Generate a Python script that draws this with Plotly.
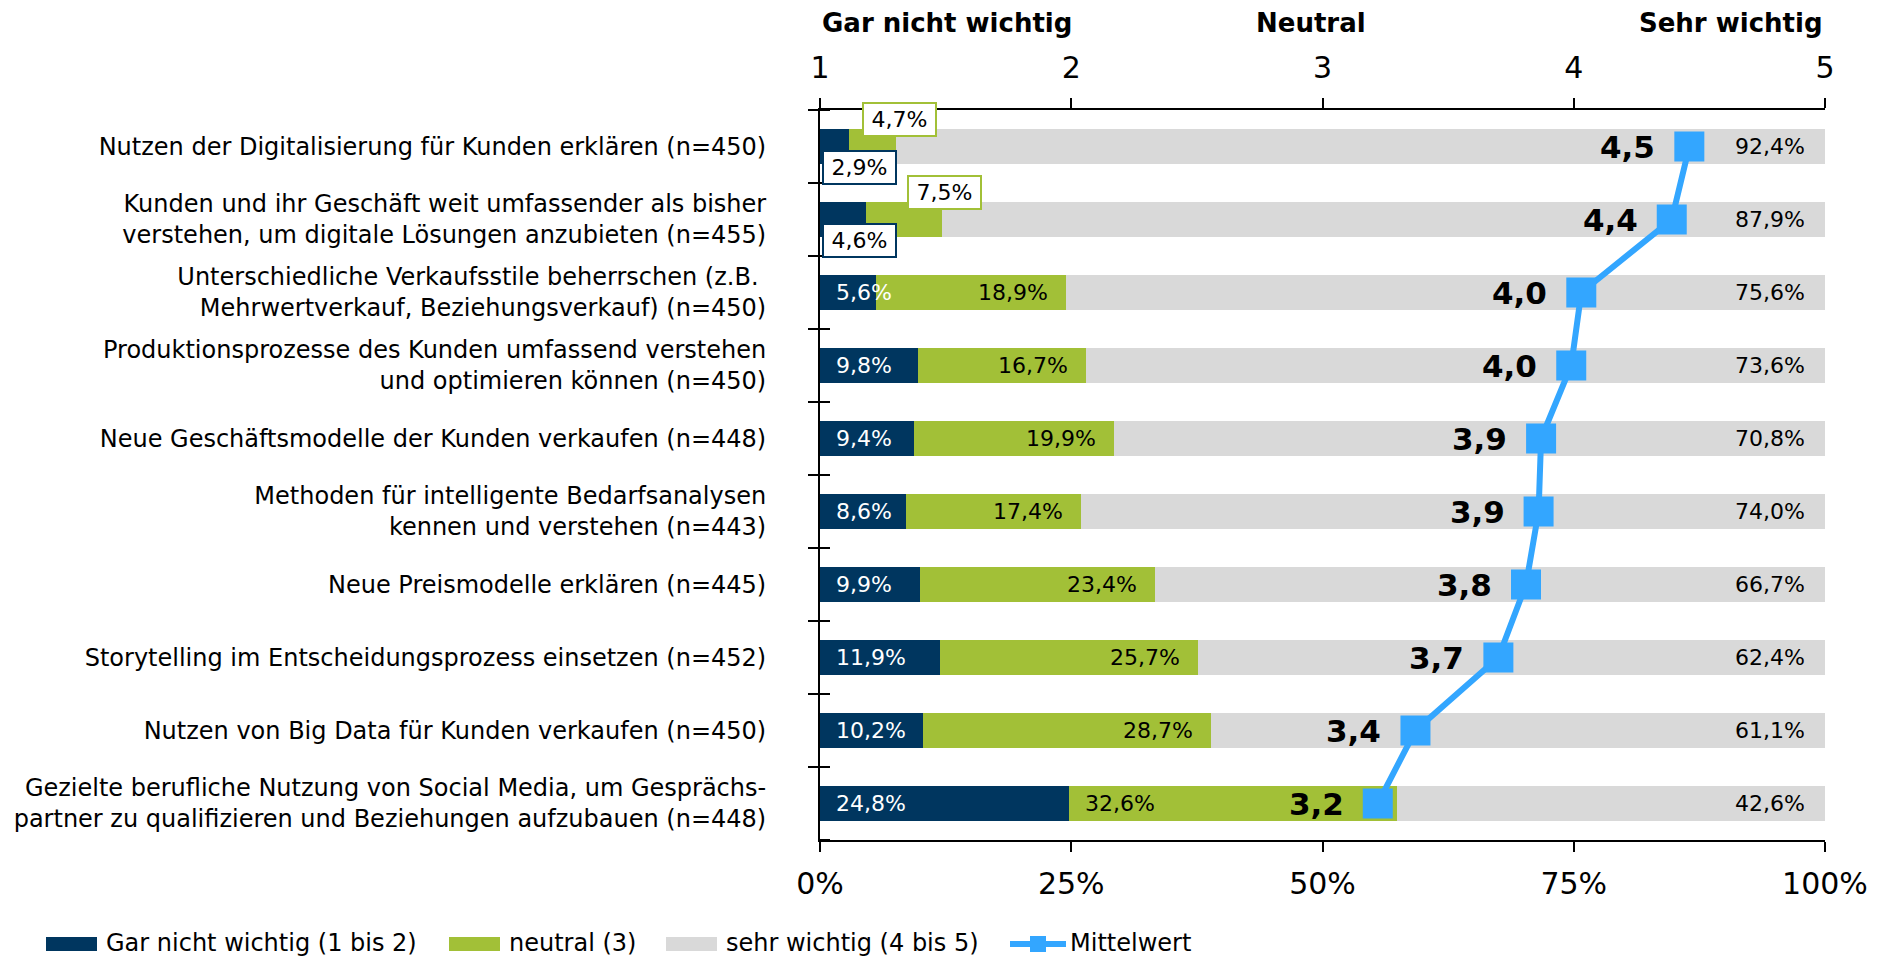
import plotly.graph_objects as go

categories = [
    "Nutzen der Digitalisierung für Kunden erklären (n=450)",
    "Kunden und ihr Geschäft weit umfassender als bisher<br>verstehen, um digitale Lösungen anzubieten (n=455)",
    "Unterschiedliche Verkaufsstile beherrschen (z.B. <br>Mehrwertverkauf, Beziehungsverkauf) (n=450)",
    "Produktionsprozesse des Kunden umfassend verstehen<br>und optimieren können (n=450)",
    "Neue Geschäftsmodelle der Kunden verkaufen (n=448)",
    "Methoden für intelligente Bedarfsanalysen<br>kennen und verstehen (n=443)",
    "Neue Preismodelle erklären (n=445)",
    "Storytelling im Entscheidungsprozess einsetzen (n=452)",
    "Nutzen von Big Data für Kunden verkaufen (n=450)",
    "Gezielte berufliche Nutzung von Social Media, um Gesprächs-<br>partner zu qualifizieren und Beziehungen aufzubauen (n=448)",
]
gar_nicht = [2.9, 4.6, 5.6, 9.8, 9.4, 8.6, 9.9, 11.9, 10.2, 24.8]
neutral = [4.7, 7.5, 18.9, 16.7, 19.9, 17.4, 23.4, 25.7, 28.7, 32.6]
sehr = [92.4, 87.9, 75.6, 73.6, 70.8, 74.0, 66.7, 62.4, 61.1, 42.6]
mittelwert = [4.46, 4.39, 4.03, 3.99, 3.87, 3.86, 3.81, 3.70, 3.37, 3.22]

pct_ticks = [0, 25, 50, 75, 100]
pct_ticktext = ["0%", "25%", "50%", "75%", "100%"]
scale_ticks = [1, 2, 3, 4, 5]
scale_ticktext = ["1", "2", "3", "4", "5"]
header_labels = ["Gar nicht wichtig", "Neutral", "Sehr wichtig"]
series_names = ["Gar nicht wichtig (1 bis 2)", "neutral (3)", "sehr wichtig (4 bis 5)", "Mittelwert"]

C_DARK = "#00365F"
C_GREEN = "#A2C037"
C_GRAY = "#D9D9D9"
C_BLUE = "#33A6FF"
FONT = "DejaVu Sans"
TS = "\u2009"  # thin space used as inner padding of the callout boxes


def de(v, nd=1):
    return f"{v:.{nd}f}".replace(".", ",")


fig = go.Figure()
for vals, name, col in [(gar_nicht, series_names[0], C_DARK),
                        (neutral, series_names[1], C_GREEN),
                        (sehr, series_names[2], C_GRAY)]:
    fig.add_trace(go.Bar(
        y=categories, x=vals, name=name, orientation="h",
        marker=dict(color=col, line=dict(width=0)),
        hoverinfo="x+name", showlegend=False,
    ))

fig.add_trace(go.Scatter(
    y=categories, x=mittelwert, name=series_names[3], xaxis="x2",
    mode="lines+markers", showlegend=False,
    line=dict(color=C_BLUE, width=6),
    marker=dict(symbol="square", size=30, color=C_BLUE, line=dict(width=0)),
))

ann = []
for i, cat in enumerate(categories):
    d, g, s, m = gar_nicht[i], neutral[i], sehr[i], mittelwert[i]
    mean_pct = (m - 1) / 4 * 100
    if d + g < 13:
        ann.append(dict(x=0, y=cat, xref="x", yref="y", text=TS + de(d) + "%" + TS,
                        xanchor="left", yanchor="middle", xshift=2, yshift=-21,
                        showarrow=False, bgcolor="white", bordercolor=C_DARK,
                        borderwidth=2, borderpad=3,
                        font=dict(size=22, color="black", family=FONT)))
        ann.append(dict(x=d + g, y=cat, xref="x", yref="y", text=TS + de(g) + "%" + TS,
                        xanchor="center", yanchor="middle", xshift=3, yshift=27,
                        showarrow=False, bgcolor="white", bordercolor=C_GREEN,
                        borderwidth=2, borderpad=3,
                        font=dict(size=22, color="black", family=FONT)))
    else:
        ann.append(dict(x=0, y=cat, xref="x", yref="y", text=de(d) + "%",
                        xanchor="left", yanchor="middle", xshift=14,
                        showarrow=False,
                        font=dict(size=22, color="white", family=FONT)))
        if mean_pct < d + g:
            ann.append(dict(x=d, y=cat, xref="x", yref="y", text=de(g) + "%",
                            xanchor="left", yanchor="middle", xshift=14,
                            showarrow=False,
                            font=dict(size=22, color="black", family=FONT)))
        else:
            ann.append(dict(x=d + g, y=cat, xref="x", yref="y", text=de(g) + "%",
                            xanchor="right", yanchor="middle", xshift=-16,
                            showarrow=False,
                            font=dict(size=22, color="black", family=FONT)))
    ann.append(dict(x=100, y=cat, xref="x", yref="y", text=de(s) + "%",
                    xanchor="right", yanchor="middle", xshift=-18,
                    showarrow=False,
                    font=dict(size=22, color="black", family=FONT)))
    ann.append(dict(x=m, y=cat, xref="x2", yref="y", text="<b>" + de(m) + "</b>",
                    xanchor="right", yanchor="middle", xshift=-32,
                    showarrow=False,
                    font=dict(size=31, color="black", family=FONT)))

# header labels above the scale axis
HY = 1.119
ann.append(dict(x=scale_ticks[0], y=HY, xref="x2", yref="paper", text="<b>" + header_labels[0] + "</b>",
                xanchor="left", yanchor="middle", showarrow=False,
                font=dict(size=26, color="black", family=FONT)))
ann.append(dict(x=scale_ticks[2], y=HY, xref="x2", yref="paper", text="<b>" + header_labels[1] + "</b>",
                xanchor="center", yanchor="middle", xshift=-12, showarrow=False,
                font=dict(size=26, color="black", family=FONT)))
ann.append(dict(x=scale_ticks[-1], y=HY, xref="x2", yref="paper", text="<b>" + header_labels[2] + "</b>",
                xanchor="right", yanchor="middle", showarrow=False,
                font=dict(size=26, color="black", family=FONT)))

shapes = []
# inner halves of the y-axis tick marks (crossing ticks)
for k in range(len(categories) + 1):
    shapes.append(dict(type="line", xref="paper", yref="y", xsizemode="pixel",
                       xanchor=0, x0=0, x1=10, y0=k - 0.5, y1=k - 0.5,
                       line=dict(color="black", width=2)))

# legend drawn below the chart (wide swatches as in the original)
LEG_Y = -104  # pixel offset from bottom of plot area
legend_items = [
    (series_names[0], C_DARK, -774, "bar"),
    (series_names[1], C_GREEN, -371, "bar"),
    (series_names[2], C_GRAY, -154, "bar"),
    (series_names[3], C_BLUE, 190, "line"),
]
for name, col, x0, kind in legend_items:
    if kind == "bar":
        shapes.append(dict(type="rect", xref="paper", yref="paper",
                           xsizemode="pixel", ysizemode="pixel", xanchor=0, yanchor=0,
                           x0=x0, x1=x0 + 51, y0=LEG_Y - 7, y1=LEG_Y + 7,
                           fillcolor=col, line=dict(width=0)))
    else:
        shapes.append(dict(type="line", xref="paper", yref="paper",
                           xsizemode="pixel", ysizemode="pixel", xanchor=0, yanchor=0,
                           x0=x0, x1=x0 + 56, y0=LEG_Y, y1=LEG_Y,
                           line=dict(color=col, width=6)))
        shapes.append(dict(type="rect", xref="paper", yref="paper",
                           xsizemode="pixel", ysizemode="pixel", xanchor=0, yanchor=0,
                           x0=x0 + 20, x1=x0 + 36, y0=LEG_Y - 8, y1=LEG_Y + 8,
                           fillcolor=col, line=dict(width=0)))
    ann.append(dict(x=0, y=0, xref="paper", yref="paper", xshift=x0 + 58, yshift=LEG_Y + 1,
                    text=name, xanchor="left", yanchor="middle", showarrow=False,
                    font=dict(size=24, color="black", family=FONT)))

fig.update_layout(
    width=1881, height=948, autosize=False,
    margin=dict(l=812, r=64, t=102, b=116, pad=0),
    paper_bgcolor="white", plot_bgcolor="white",
    barmode="stack", bargap=0.51,
    font=dict(family=FONT, color="black"),
    annotations=ann, shapes=shapes,
    showlegend=False,
    xaxis=dict(range=[0, 100], tickvals=pct_ticks, ticktext=pct_ticktext,
               showgrid=False, zeroline=False, showline=True, linecolor="black",
               linewidth=2, ticks="outside", ticklen=10, tickwidth=2,
               tickcolor="black", ticklabelstandoff=6, automargin=False,
               tickfont=dict(size=30, family=FONT, color="black")),
    xaxis2=dict(range=[1, 5], overlaying="x", side="top", tickvals=scale_ticks,
                ticktext=scale_ticktext, showgrid=False, zeroline=False,
                showline=True, linecolor="black", linewidth=2, ticks="outside",
                ticklen=10, tickwidth=2, tickcolor="black", ticklabelstandoff=8,
                automargin=False,
                tickfont=dict(size=30, family=FONT, color="black")),
    yaxis=dict(type="category", range=[len(categories) - 0.5, -0.5],
               tickson="boundaries", ticks="outside", ticklen=10, tickwidth=2,
               tickcolor="black", showline=True, linecolor="black", linewidth=2,
               showgrid=False, zeroline=False, ticklabelstandoff=47,
               automargin=False,
               tickfont=dict(size=24, family=FONT, color="black")),
)

fig.write_html("out.html")
